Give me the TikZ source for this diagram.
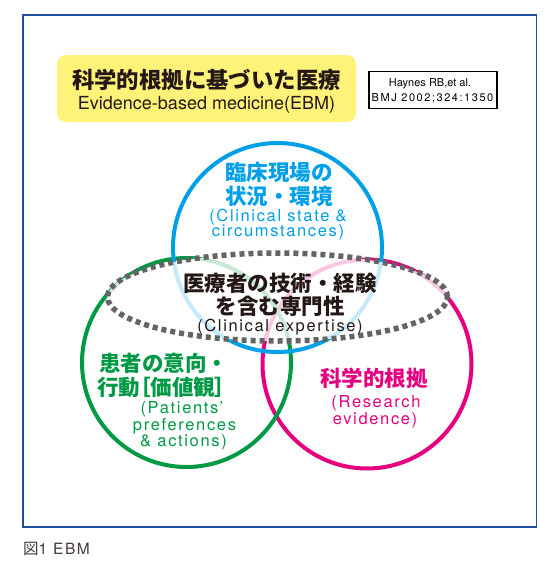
\documentclass[tikz,border=0pt]{standalone}
\usepackage{fontspec}
\usetikzlibrary{shapes.geometric}
\setmainfont{TeX Gyre Heros}
\newfontfamily\jp{Noto Sans CJK JP}
\newfontfamily\jpp{Noto Sans CJK JP}[RawFeature=+palt]
\newfontfamily\en{TeX Gyre Heros}[LetterSpace=10]
\newfontfamily\enref{TeX Gyre Heros}[LetterSpace=14]
\definecolor{framec}{RGB}{30,80,160}
\definecolor{yel}{RGB}{255,242,120}
\definecolor{cblue}{RGB}{0,160,233}
\definecolor{cgreen}{RGB}{0,153,68}
\definecolor{cmag}{RGB}{228,0,127}
\definecolor{cgray}{RGB}{100,100,100}
\definecolor{ink}{RGB}{35,24,21}
\tikzset{
  ring/.style={circle, draw=#1, line width=4pt, minimum size=209pt, inner sep=0pt},
  jptxt/.style={font=\jp\bfseries\fontsize{21.5}{24}\selectfont, inner sep=0pt},
  entxt/.style={font=\en\fontsize{16.5}{18}\selectfont, inner sep=0pt},
}
\begin{document}
\begin{tikzpicture}[x=1pt,y=-1pt]
\useasboundingbox (0,0) rectangle (553,568);
\node[draw=framec, line width=1.5pt, minimum width=513.5pt, minimum height=512pt, inner sep=0pt] (frame) at (279.75,271) {};
% title
\node[fill=yel, rounded corners=9pt, minimum width=299pt, minimum height=67pt, inner sep=0pt] (titlebox) at (206.5,88.5) {};
\node[jptxt, font=\jp\bfseries\fontsize{22.4}{24}\selectfont, text=ink] (tjp) at (206.5,80) {科学的根拠に基づいた医療};
\node[inner sep=0pt, font=\fontsize{18}{20}\selectfont, text=ink] (ten) at (206.5,104.5) {Evidence-based medicine(EBM)};
% reference
\node[draw=black, line width=1.2pt, minimum width=128pt, minimum height=37pt, inner sep=0pt] (ref) at (433,90) {};
\node[inner sep=0pt, font=\fontsize{11}{13}\selectfont] (ref1) at (430,83.5) {Haynes RB,et al.};
\node[inner sep=0pt, font=\enref\fontsize{11}{13}\selectfont] (ref2) at (432.5,98.5) {BMJ 2002;324:1350};
% circles
\node[ring=cmag] (mag) at (367,364) {};
\node[ring=cgreen] (green) at (186.5,362.5) {};
\node[ring=cblue] (blue) at (277.5,247.5) {};
% expertise ellipse
\node[ellipse, fill=white, fill opacity=0.78, minimum width=340pt, minimum height=88pt, inner sep=0pt] (expfill) at (277.5,297) {};
\node[ellipse, draw=cgray, line width=5.5pt, dash pattern=on 5pt off 4pt, minimum width=340pt, minimum height=88pt, inner sep=0pt] (exp) at (277.5,297) {};
% blue texts
\node[jptxt, text=cblue] (b1) at (279,172.5) {臨床現場の};
\node[jptxt, text=cblue] (b2) at (279,196) {状況・環境};
\node[entxt, text=cblue] (b3) at (278,217.5) {(Clinical state \&};
\node[entxt, text=cblue] (b4) at (278,232.5) {circumstances)};
% center texts
\node[jptxt, text=ink] (c1) at (280,283) {医療者の技術・経験};
\node[jptxt, text=ink] (c2) at (280,306) {を含む専門性};
\node[entxt, text=ink] (c3) at (280,327.5) {(Clinical expertise)};
% green texts
\node[jptxt, text=cgreen] (g1) at (163.5,363) {患者の意向・};
\node[jptxt, font=\jpp\bfseries\fontsize{21.5}{24}\selectfont, text=cgreen] (g2) at (161.5,387) {行動［価値観］};
\node[entxt, text=cgreen] (g3) at (182,409.5) {(Patients’};
\node[entxt, text=cgreen] (g4) at (184.5,426) {preferences};
\node[entxt, text=cgreen] (g5) at (183.5,442) {\& actions)};
% magenta texts
\node[jptxt, text=cmag] (m1) at (374,378.5) {科学的根拠};
\node[entxt, text=cmag] (m2) at (376,403.5) {(Research};
\node[entxt, text=cmag] (m3) at (375,420.5) {evidence)};
% caption
\node[inner sep=0pt, anchor=west, text=ink!85, font=\en\fontsize{15.5}{17}\selectfont] (cap) at (23,548.5) {{\jp 図}1 EBM};
\end{tikzpicture}
\end{document}
